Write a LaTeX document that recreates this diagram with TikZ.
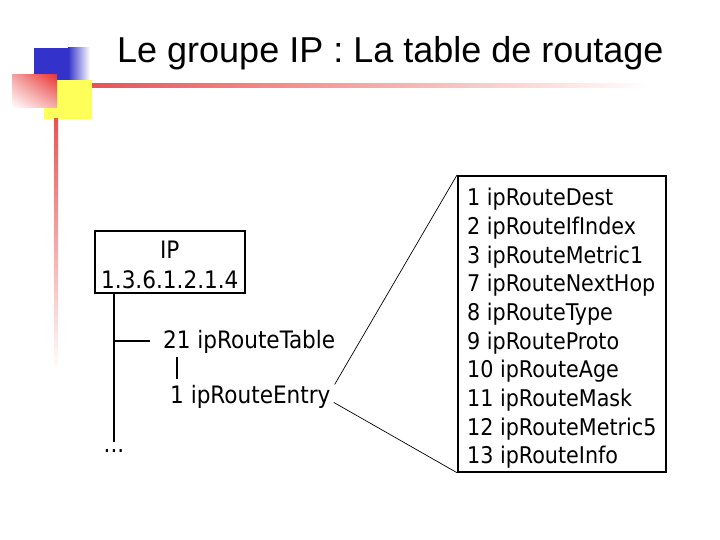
\documentclass[tikz,border=0pt]{standalone}
\usepackage{fontspec}
\setmainfont{Liberation Sans}
\newfontfamily\tahoma{DejaVu Sans Condensed}
\usetikzlibrary{positioning, shadings}

\definecolor{slideblue}{RGB}{51,51,204}
\definecolor{slidered}{RGB}{232,52,52}
\definecolor{slideyellow}{RGB}{255,255,90}

\tikzset{
    item/.style={font=\tahoma\fontsize{23}{28.7}\selectfont, inner sep=0pt},
    label/.style={font=\tahoma\fontsize{24}{30}\selectfont, inner sep=0pt},
    frame/.style={draw, line width=1.6pt},
    tree/.style={line width=1.8pt},
    fan/.style={line width=0.7pt}
}

\begin{document}
\begin{tikzpicture}[x=1pt, y=-1pt]
    \useasboundingbox (0,0) rectangle (720,540);

    % Slide decoration
    \fill[slideblue] (34,48) rectangle (69,82);
    \shade[left color=slideblue, right color=white] (68,48) rectangle (90,82);
    \fill[slideyellow] (44,80) rectangle (92,119);
    \shade[upper right=slidered, upper left=slidered!45!white,
           lower right=slidered!40!white, lower left=white] (12,75) rectangle (57,108);
    \shade[left color=slidered!85, right color=white] (92,84) rectangle (650,88);
    \shade[top color=slidered!85, bottom color=white] (54,119) rectangle (58,370);

    % Title
    \node[font=\fontsize{36}{43}\selectfont, anchor=base west, inner sep=0pt] (title) at (117,63)
        {Le groupe IP : La table de routage};

    % IP subtree
    \node[frame, label, align=center, text width=150pt,
          inner ysep=4pt, text height=24pt, anchor=north west] (ip) at (94,230)
        {IP\\1.3.6.1.2.1.4};
    \node[label, anchor=base, text height=10pt] (dots) at (114,452) {...};
    \node[label, anchor=base west] (tbl) at (163,348) {21 ipRouteTable};
    \node[label, anchor=base west] (entry) at (170,403) {1 ipRouteEntry};

    \draw[tree] (dots.north |- ip.south) -- (dots.north);
    \draw[tree] (dots.north |- tbl.west) -- ([xshift=-13pt]tbl.west);
    \draw[tree] ([shift={(14,4)}]tbl.south west) -- ([shift={(7,-6)}]entry.north west);

    % Columns of the entry
    \node[frame, item, align=left, inner xsep=9pt, inner ysep=2.5pt, minimum width=208pt,
          text height=285.6pt, text depth=5.5pt, anchor=north west] (fields) at (457,175)
        {1 ipRouteDest\\
         2 ipRouteIfIndex\\
         3 ipRouteMetric1\\
         7 ipRouteNextHop\\
         8 ipRouteType\\
         9 ipRouteProto\\
         10 ipRouteAge\\
         11 ipRouteMask\\
         12 ipRouteMetric5\\
         13 ipRouteInfo};

    \draw[fan] ([shift={(4,-12)}]entry.east) -- (fields.north west);
    \draw[fan] ([shift={(3,6)}]entry.east) -- (fields.south west);
\end{tikzpicture}
\end{document}
